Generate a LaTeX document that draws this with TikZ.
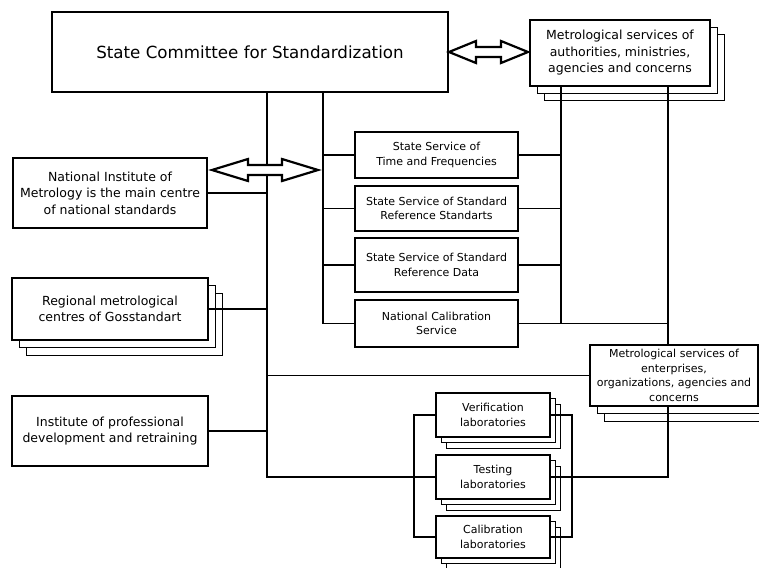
\documentclass[tikz,border=0pt]{standalone}
\usepackage{fontspec}
\setmainfont{DejaVu Sans}
\usepackage{tikz}
\usetikzlibrary{positioning}
\usetikzlibrary{shadows}
\usetikzlibrary{calc}
\tikzstyle{unit} = [rectangle, draw=black, line width=2pt, fill=white,
                    align=center, inner sep=1pt]
\tikzstyle{big} = [unit, font=\fontsize{16.7}{20}\selectfont]
\tikzstyle{mid} = [unit, font=\fontsize{12.5}{16.5}\selectfont]
\tikzstyle{small} = [unit, font=\fontsize{11}{14.5}\selectfont]
\tikzstyle{stack} = [copy shadow={shadow xshift=14pt, shadow yshift=-15pt, draw=black, fill=white, line width=1pt},
                     copy shadow={shadow xshift=7pt, shadow yshift=-7.5pt, draw=black, fill=white, line width=1pt}]
\tikzstyle{labstack} = [copy shadow={shadow xshift=10pt, shadow yshift=-11pt, draw=black, fill=white, line width=1pt},
                        copy shadow={shadow xshift=5pt, shadow yshift=-5.5pt, draw=black, fill=white, line width=1pt}]
\tikzstyle{link} = [line width=1.2pt]
\tikzstyle{twoway} = [line width=2.2pt, fill=white, line join=miter]
\newcommand{\bothways}[3]{%
  \draw[twoway] (#1) -- ($(#1)+(#3,-11)$) -- ($(#1)+(#3,-5)$) -- ($(#2)+(-#3,-5)$) -- ($(#2)+(-#3,-11)$)
    -- (#2) -- ($(#2)+(-#3,11)$) -- ($(#2)+(-#3,5)$) -- ($(#1)+(#3,5)$) -- ($(#1)+(#3,11)$) -- cycle;}

\begin{document}
\begin{tikzpicture}[x=1pt,y=-1pt]
    \useasboundingbox (0,0) rectangle (759,567);
    \node[big, minimum width=396pt, minimum height=80pt] (top) at (250,52) {State Committee for Standardization};
    \node[mid, stack, minimum width=180pt, minimum height=66pt] (auth) at (620,53) {Metrological services of\\authorities, ministries,\\agencies and concerns};
    \node[mid, minimum width=194pt, minimum height=70pt] (nim) at (110,193) {National Institute of\\Metrology is the main centre\\of national standards};
    \node[mid, stack, minimum width=196pt, minimum height=62pt] (reg) [below of=nim,node distance=116pt] {Regional metrological\\centres of Gosstandart};
    \node[mid, minimum width=196pt, minimum height=70pt] (ipd) [below of=reg,node distance=122pt] {Institute of professional\\development and retraining};
    \node[small, minimum width=163pt, minimum height=46pt] (time) at (436.5,155) {State Service of\\Time and Frequencies};
    \node[small, minimum width=163pt, minimum height=45pt] (stand) [below of=time,node distance=53.5pt] {State Service of Standard\\Reference Standarts};
    \node[small, minimum width=163pt, minimum height=54pt] (data) [below of=stand,node distance=56.5pt] {State Service of Standard\\Reference Data};
    \node[small, minimum width=163pt, minimum height=47pt] (calib) [below of=data,node distance=58.5pt] {National Calibration\\Service};
    \node[small, stack, minimum width=168pt, minimum height=61pt] (ent) at (674,375.5) {Metrological services of\\enterprises,\\organizations, agencies and\\concerns};
    \node[small, labstack, minimum width=114pt, minimum height=44pt] (ver) at (493,415) {Verification\\laboratories};
    \node[small, labstack, minimum width=114pt, minimum height=44pt] (tes) [below of=ver,node distance=62pt] {Testing\\laboratories};
    \node[small, labstack, minimum width=114pt, minimum height=42pt] (cal) [below of=tes,node distance=60pt] {Calibration\\laboratories};
    \coordinate (ja) at (267,0);
    \coordinate (jb) at (323,0);
    \coordinate (jc) at (561,0);
    \coordinate (jd) at (668,0);
    \coordinate (je) at (414,0);
    \coordinate (jf) at (572,0);
    \draw[link] (top.south -| ja) |- (tes.west);
    \draw[link] (nim.east) -- (nim.east -| ja);
    \draw[link] (reg.east) -- (reg.east -| ja);
    \draw[link] (ipd.east) -- (ipd.east -| ja);
    \draw[link] (ent.west) -- (ent.west -| ja);
    \draw[link] (top.south -| jb) |- (calib.west);
    \draw[link] (time.west) -- (time.west -| jb);
    \draw[link] (stand.west) -- (stand.west -| jb);
    \draw[link] (data.west) -- (data.west -| jb);
    \draw[link] (auth.south -| jc) |- (calib.east);
    \draw[link] (time.east) -- (time.east -| jc);
    \draw[link] (stand.east) -- (stand.east -| jc);
    \draw[link] (data.east) -- (data.east -| jc);
    \draw[link] (calib.east) -- (calib.east -| jd);
    \draw[link] (auth.south -| jd) -- (ent.north -| jd);
    \draw[link] (ent.south -| jd) |- (tes.east);
    \draw[link] (ver.west) -- (ver.west -| je) -- (cal.west -| je) -- (cal.west);
    \draw[link] (ver.east) -- (ver.east -| jf) -- (cal.east -| jf) -- (cal.east);
    \coordinate (ta) at (top.east);
    \coordinate (tb) at ($(top.east -| auth.west)+(-1,0)$);
    \bothways{ta}{tb}{27}
    \coordinate (na) at ($(nim.east)+(4,-23)$);
    \coordinate (nb) at ($(na -| jb)+(-5,0)$);
    \bothways{na}{nb}{36}
\end{tikzpicture}
\end{document}
